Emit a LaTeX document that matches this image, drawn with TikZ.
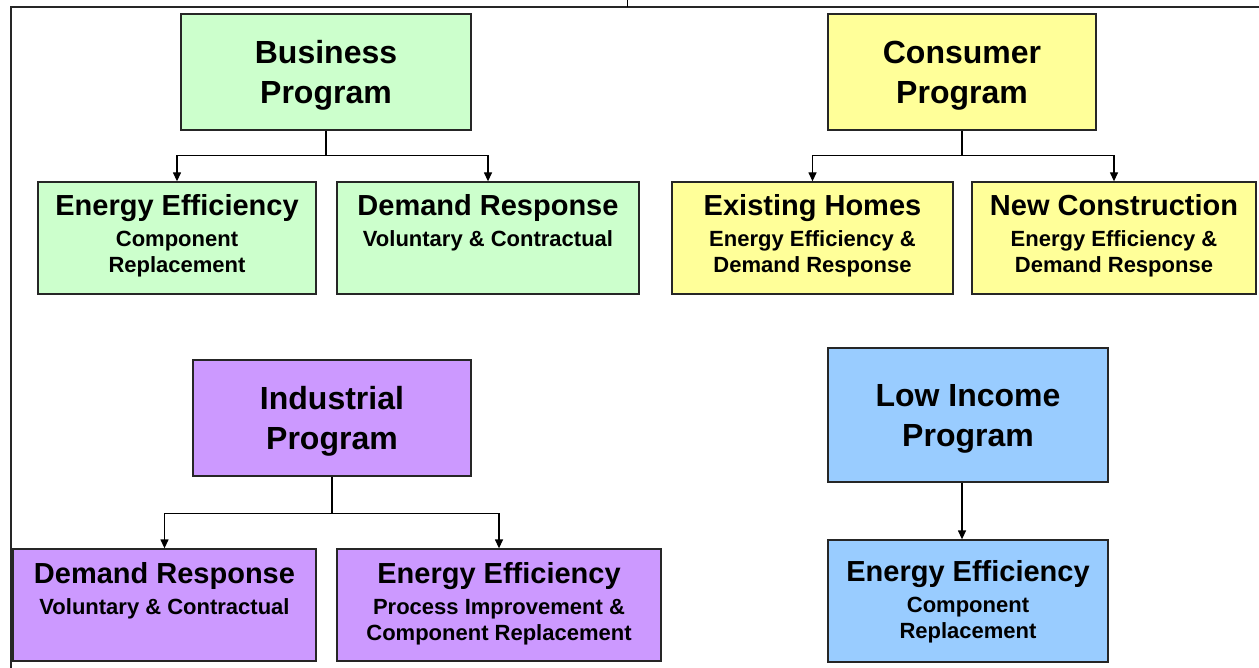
\documentclass[tikz,border=0pt]{standalone}
\usepackage{fontspec}
\setmainfont{Liberation Sans}
\usetikzlibrary{arrows.meta}

\definecolor{busgreen}{HTML}{CCFFCC}
\definecolor{conyellow}{HTML}{FFFF99}
\definecolor{indpurple}{HTML}{CC99FF}
\definecolor{lowblue}{HTML}{99CCFF}

\newcommand{\hd}[1]{{\fontsize{29}{31}\selectfont #1}\\[5pt]}

\begin{document}
\begin{tikzpicture}[x=1pt, y=-1pt,
        box/.style={draw=black!85, line width=1.3pt, align=center, inner sep=0pt},
        prog/.style={box, font=\bfseries\fontsize{32}{40}\selectfont, text depth=0pt},
        leaf/.style={box, font=\bfseries\fontsize{22}{26}\selectfont},
        leaftwo/.style={leaf, text height=65pt, text depth=47pt},
        leafthree/.style={leaf, text height=91pt, text depth=21pt},
        link/.style={line width=1.3pt},
        arr/.style={link, -{Triangle[length=9pt,width=8pt]}}]
        \useasboundingbox (0,0) rectangle (1259,668);
        \draw[line width=1.3pt, black!85] (11,668) -- (11,7) -- (1259,7);
        \draw[line width=1pt] (627,0) -- (627,7);

        \node[prog, fill=busgreen, minimum width=290pt, minimum height=116pt]
            (bus) at (326,72) {Business\\Program};
        \node[prog, fill=conyellow, minimum width=268pt, minimum height=116pt]
            (con) at (962,72) {Consumer\\Program};
        \node[prog, fill=indpurple, minimum width=278pt, minimum height=116pt]
            (ind) at (332,418) {Industrial\\Program};
        \node[prog, fill=lowblue, minimum width=280pt, minimum height=134pt]
            (low) at (968,415) {Low Income\\Program};

        \node[leafthree, fill=busgreen, minimum width=278pt] (busee) at (177,238)
            {\hd{Energy Efficiency}Component\\Replacement};
        \node[leaftwo, fill=busgreen, minimum width=302pt] (busdr) at (488,238)
            {\hd{Demand Response}Voluntary \& Contractual};
        \node[leafthree, fill=conyellow, minimum width=281pt] (conex) at (812.5,238)
            {\hd{Existing Homes}Energy Efficiency \&\\Demand Response};
        \node[leafthree, fill=conyellow, minimum width=284pt] (conew) at (1114,238)
            {\hd{New Construction}Energy Efficiency \&\\Demand Response};
        \node[leaftwo, fill=indpurple, minimum width=303pt] (inddr) at (164.5,605)
            {\hd{Demand Response}Voluntary \& Contractual};
        \node[leafthree, fill=indpurple, minimum width=324pt] (indee) at (499,605)
            {\hd{Energy Efficiency}Process Improvement \&\\Component Replacement};
        \node[leaf, fill=lowblue, minimum width=280pt,
            text height=98pt, text depth=24pt] (lowee) at (968,601)
            {\hd{Energy Efficiency}Component\\Replacement};

        \draw[link] (bus.south) -- ++(0,25) coordinate (busmid);
        \draw[arr] (busmid) -| (busee.north);
        \draw[arr] (busmid) -| (busdr.north);
        \draw[link] (con.south) -- ++(0,25) coordinate (conmid);
        \draw[arr] (conmid) -| (conex.north);
        \draw[arr] (conmid) -| (conew.north);
        \draw[link] (ind.south) -- ++(0,37) coordinate (indmid);
        \draw[arr] (indmid) -| (inddr.north);
        \draw[arr] (indmid) -| (indee.north);
        \draw[arr] ([xshift=-6pt]low.south) -- ([xshift=-6pt]lowee.north);
    \end{tikzpicture}
\end{document}
